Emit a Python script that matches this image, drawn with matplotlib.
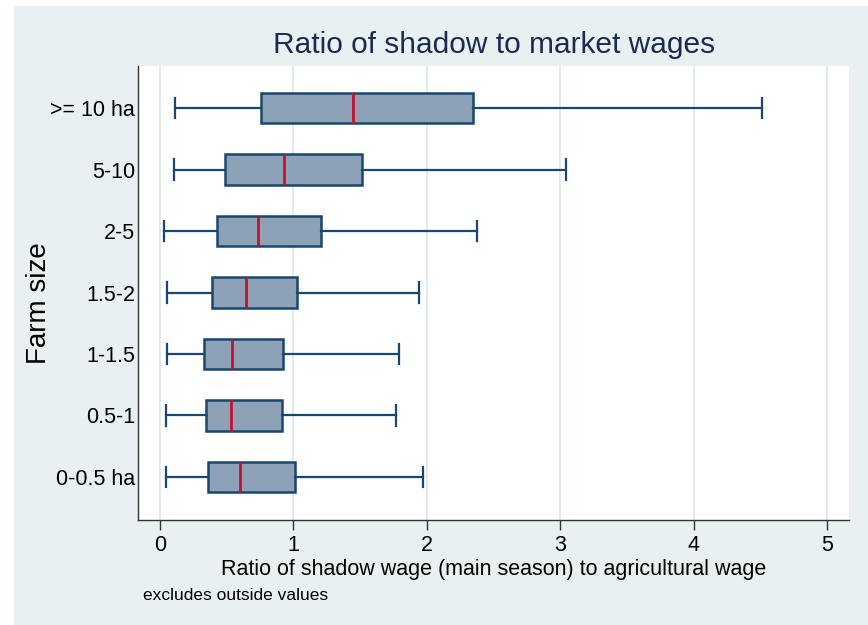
import matplotlib.pyplot as plt
from matplotlib.patches import Rectangle

plt.rcParams['font.family'] = ['Liberation Sans', 'DejaVu Sans']

# farm size groups, bottom to top
groups = ['0-0.5 ha', '0.5-1', '1-1.5', '1.5-2', '2-5', '5-10', '>= 10 ha']
whis_lo = [0.042, 0.045, 0.05, 0.055, 0.032, 0.107, 0.11]
q1 = [0.362, 0.347, 0.332, 0.39, 0.425, 0.487, 0.755]
med = [0.597, 0.53, 0.54, 0.645, 0.735, 0.927, 1.445]
q3 = [1.009, 0.917, 0.922, 1.025, 1.209, 1.512, 2.35]
whis_hi = [1.974, 1.769, 1.789, 1.945, 2.379, 3.04, 4.51]

navy = '#1A476F'
fill = '#8DA2B7'
red = '#C8102E'
bg = '#E8F0F2'

fig = plt.figure(figsize=(8.68, 6.25), dpi=100, facecolor='white')
fig.patches.append(Rectangle((14 / 868, 0), 1, 1 - 6 / 625, transform=fig.transFigure,
                             facecolor=bg, edgecolor='none', zorder=-10))

ax = fig.add_axes([138 / 868, 105 / 625, 711 / 868, 454.3 / 625])
ax.set_facecolor('white')

stats = []
for g, lo, a, m, b, hi in zip(groups, whis_lo, q1, med, q3, whis_hi):
    stats.append(dict(label=g, whislo=lo, q1=a, med=m, q3=b, whishi=hi, fliers=[]))

ax.bxp(stats, positions=range(len(groups)), widths=0.5, capwidths=0.33,
       orientation='horizontal', patch_artist=True, showfliers=False,
       boxprops=dict(facecolor=fill, edgecolor=navy, linewidth=1.8),
       medianprops=dict(color=red, linewidth=2),
       whiskerprops=dict(color=navy, linewidth=1.6),
       capprops=dict(color=navy, linewidth=1.6))

ax.set_xlim(-0.165, 5.165)
ax.set_ylim(-0.7, 6.69)
ax.set_xticks(range(6))
ax.set_yticks(range(len(groups)))
ax.set_yticklabels(groups)
ax.grid(axis='x', color='#E3EBEE', linewidth=1.5)
ax.set_axisbelow(True)

for s in ['top', 'right']:
    ax.spines[s].set_visible(False)
for s in ['left', 'bottom']:
    ax.spines[s].set_color('#333333')
    ax.spines[s].set_linewidth(1.0)

ax.tick_params(axis='x', length=7, width=1, color='#333333', labelsize=15.5, pad=4)
ax.tick_params(axis='y', length=0, labelsize=15.5, pad=2)

ax.set_xlabel('Ratio of shadow wage (main season) to agricultural wage', fontsize=15.5, labelpad=2)
ax.set_ylabel('Farm size', fontsize=20)
ax.yaxis.set_label_coords(-0.121, 0.478)

fig.text(494 / 868, 1 - 45 / 625, 'Ratio of shadow to market wages', ha='center', va='center',
         fontsize=21.5, color='#1C2A50')
fig.text(143 / 868, 1 - 596 / 625, 'excludes outside values', ha='left', va='center', fontsize=12.5)

fig.savefig('out.png', dpi=100, facecolor=fig.get_facecolor())
